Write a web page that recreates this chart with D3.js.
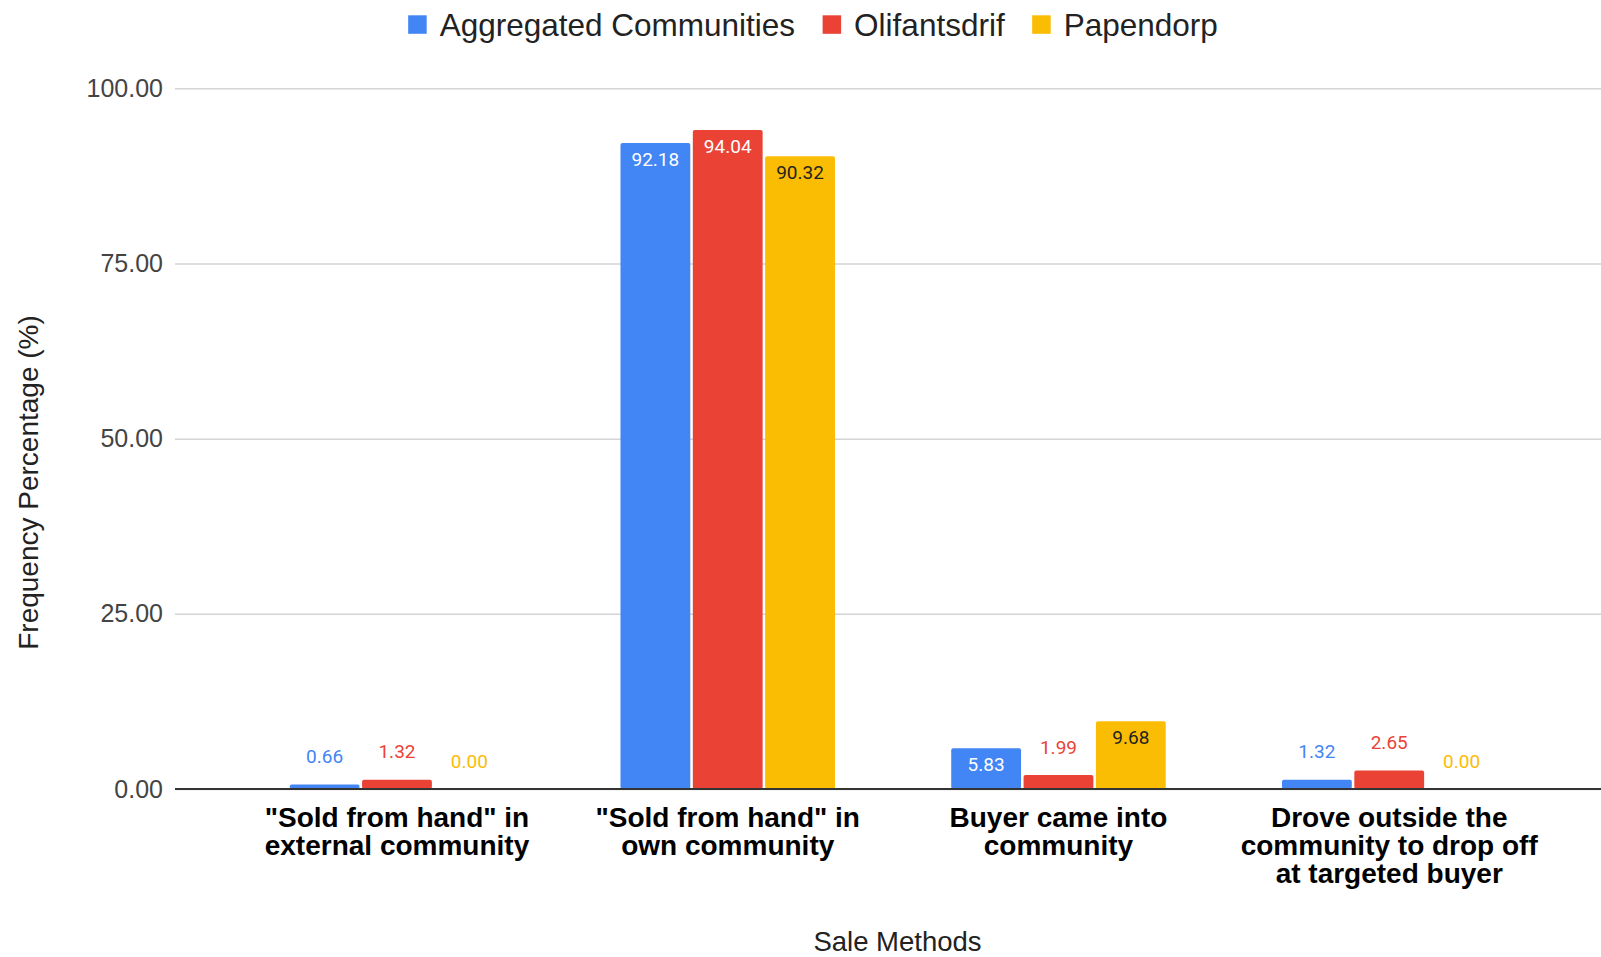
<!DOCTYPE html>
<html>
<head>
<meta charset="utf-8">
<script src="https://cdn.jsdelivr.net/npm/d3@7/dist/d3.min.js"></script>
<style>
  html, body { margin: 0; padding: 0; background: #fff; }
  svg { display: block; }
</style>
</head>
<body>
<svg id="chart" width="1601" height="957"></svg>
<script>
// ---- data ----
const categories = [
  "\"Sold from hand\" in external community",
  "\"Sold from hand\" in own community",
  "Buyer came into community",
  "Drove outside the community to drop off at targeted buyer"
];
const categoryLines = [
  ["\"Sold from hand\" in", "external community"],
  ["\"Sold from hand\" in", "own community"],
  ["Buyer came into", "community"],
  ["Drove outside the", "community to drop off", "at targeted buyer"]
];
const seriesNames = ["Aggregated Communities", "Olifantsdrif", "Papendorp"];
const aggregatedValues = [0.66, 92.18, 5.83, 1.32];
const olifantsdrifValues = [1.32, 94.04, 1.99, 2.65];
const papendorpValues = [0.00, 90.32, 9.68, 0.00];
const yTicks = [0, 25, 50, 75, 100];
const seriesColors = ["#4285F4", "#EA4335", "#FBBC04"];
const insideLabelColors = ["#ffffff", "#ffffff", "#222222"];

const seriesValues = [aggregatedValues, olifantsdrifValues, papendorpValues];

// ---- layout ----
const svg = d3.select("#chart");
const plotLeft = 175, plotRight = 1601;
const y = d3.scaleLinear().domain([0, 100]).range([789, 88.3]);
const x0 = d3.scaleBand().domain(categories).range([231.6, 1554.6]).paddingInner(0).paddingOuter(0);
const groupWidth = 214.5;
const x1 = d3.scaleBand().domain(seriesNames).range([0, groupWidth]).paddingInner(0.035).paddingOuter(0);

// gridlines + tick labels via axis
const yAxis = d3.axisLeft(y)
  .tickValues(yTicks)
  .tickFormat(d3.format(".2f"))
  .tickSize(-(plotRight - plotLeft))
  .tickPadding(12);
const gy = svg.append("g")
  .attr("transform", `translate(${plotLeft},0)`)
  .call(yAxis);
gy.select(".domain").remove();
gy.selectAll(".tick line")
  .attr("stroke", "#d4d4d4")
  .attr("stroke-width", 1.5);
gy.selectAll(".tick text")
  .attr("fill", "#444")
  .style("font-family", "'Liberation Sans', Arial, sans-serif")
  .style("font-size", "25px");

// bars
const groups = svg.append("g").selectAll("g")
  .data(categories)
  .join("g")
  .attr("transform", d => `translate(${x0(d) + x0.bandwidth() / 2 - groupWidth / 2},0)`);

const barData = (c, ci) => seriesNames.map((s, si) => ({ s, si, v: seriesValues[si][ci] }));

groups.each(function(c, ci) {
  const g = d3.select(this);
  const data = barData(c, ci);
  g.selectAll("rect")
    .data(data)
    .join("rect")
    .attr("x", d => x1(d.s))
    .attr("width", x1.bandwidth())
    .attr("y", d => y(d.v))
    .attr("height", d => y(0) - y(d.v))
    .attr("rx", d => Math.min(2, (y(0) - y(d.v)) / 2))
    .attr("fill", d => seriesColors[d.si]);

  g.selectAll("text.val")
    .data(data)
    .join("text")
    .attr("class", "val")
    .attr("x", d => x1(d.s) + x1.bandwidth() / 2)
    .attr("y", d => {
      const h = y(0) - y(d.v);
      return h >= 32 ? y(d.v) + 16 : y(d.v) - 28;
    })
    .attr("text-anchor", "middle")
    .attr("dominant-baseline", "central")
    .attr("fill", d => (y(0) - y(d.v)) >= 32 ? insideLabelColors[d.si] : seriesColors[d.si])
    .style("font-family", "Roboto, sans-serif")
    .style("font-size", "19px")
    .text(d => d3.format(".2f")(d.v));
});

// baseline
svg.append("line")
  .attr("x1", plotLeft).attr("x2", plotRight)
  .attr("y1", y(0)).attr("y2", y(0))
  .attr("stroke", "#333").attr("stroke-width", 2);

// category labels
const catG = svg.append("g").selectAll("text")
  .data(categories)
  .join("text")
  .attr("text-anchor", "middle")
  .attr("fill", "#000")
  .style("font-family", "'Liberation Sans', Arial, sans-serif")
  .style("font-weight", "bold")
  .style("font-size", "28px");
catG.each(function(c, ci) {
  const t = d3.select(this);
  categoryLines[ci].forEach((line, li) => {
    t.append("tspan")
      .attr("x", x0(c) + x0.bandwidth() / 2)
      .attr("y", 817 + li * 28.2)
      .attr("dominant-baseline", "central")
      .text(line);
  });
});

// axis titles
svg.append("text")
  .attr("x", 897.5).attr("y", 951)
  .attr("text-anchor", "middle")
  .attr("fill", "#222")
  .style("font-family", "'Liberation Sans', Arial, sans-serif")
  .style("font-size", "27.5px")
  .text("Sale Methods");

svg.append("text")
  .attr("transform", "translate(28.6,482.5) rotate(-90)")
  .attr("text-anchor", "middle")
  .attr("dominant-baseline", "central")
  .attr("fill", "#222")
  .style("font-family", "'Liberation Sans', Arial, sans-serif")
  .style("font-size", "28px")
  .text("Frequency Percentage (%)");

// legend
const legend = svg.append("g");
const items = legend.selectAll("g")
  .data(seriesNames)
  .join("g");
items.append("rect")
  .attr("width", 18.5).attr("height", 18.5)
  .attr("y", 15.3)
  .attr("fill", (d, i) => seriesColors[i]);
items.append("text")
  .attr("x", 31.5)
  .attr("y", 24.5)
  .attr("dominant-baseline", "central")
  .attr("fill", "#222")
  .style("font-family", "'Liberation Sans', Arial, sans-serif")
  .style("font-size", "31.5px")
  .text(d => d);
let cursor = 0;
const widths = [];
items.each(function() {
  const w = d3.select(this).select("text").node().getComputedTextLength();
  widths.push(31.5 + w);
});
const total = d3.sum(widths) + 27.5 * (widths.length - 1);
cursor = 813 - total / 2;
items.each(function(d, i) {
  d3.select(this).attr("transform", `translate(${cursor},0)`);
  cursor += widths[i] + 27.5;
});
</script>
</body>
</html>
